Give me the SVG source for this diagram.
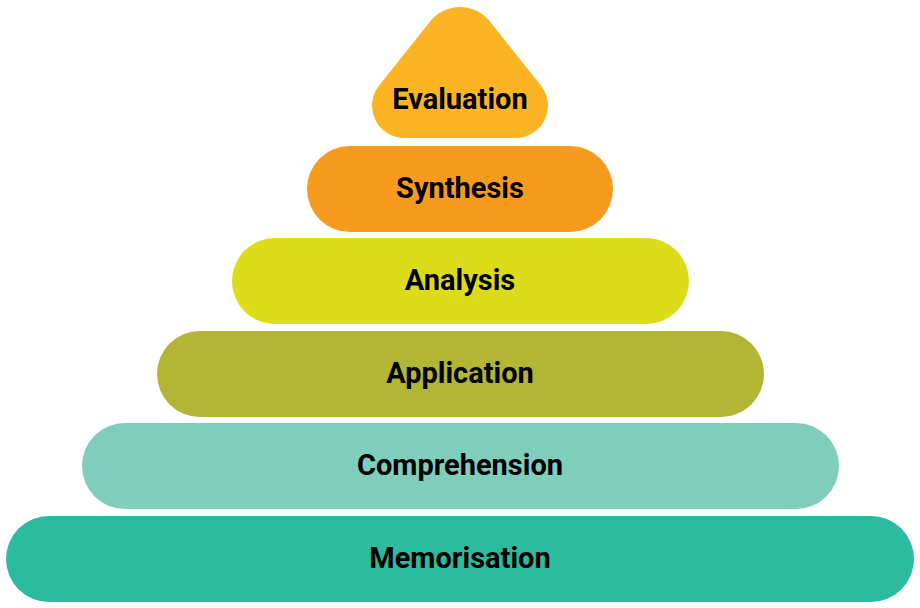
<svg xmlns="http://www.w3.org/2000/svg" width="920" height="608" viewBox="0 0 920 608">
<style>
text{font-family:Roboto,"Liberation Sans",sans-serif;font-weight:700;font-size:29px;fill:#000;text-anchor:middle;dominant-baseline:central}
</style>
<rect width="920" height="608" fill="#fff"/>
<g id="memorisation"><rect x="6" y="516" width="908" height="86" rx="43" fill="#2DBBA0"/><text x="460" y="558">Memorisation</text></g>
<g id="comprehension"><rect x="82" y="423" width="757" height="86" rx="43" fill="#7FCDBB"/><text x="460" y="465">Comprehension</text></g>
<g id="application"><rect x="157" y="331" width="607" height="86" rx="43" fill="#B3B535"/><text x="460" y="373">Application</text></g>
<g id="analysis"><rect x="232" y="238" width="457" height="86" rx="43" fill="#DDDC1A"/><text x="460" y="280">Analysis</text></g>
<g id="synthesis"><rect x="307" y="146" width="306" height="86" rx="43" fill="#F79B1F"/><text x="460" y="188">Synthesis</text></g>
<g id="evaluation"><path d="M430.3 21.3 A38 38 0 0 1 489.7 21.3 L540.9 85.4 A32.4 32.4 0 0 1 515.6 138 L404.4 138 A32.4 32.4 0 0 1 379.1 85.4 Z" fill="#FBB424"/><text x="460" y="99">Evaluation</text></g>
<g id="connectors"/>
</svg>
